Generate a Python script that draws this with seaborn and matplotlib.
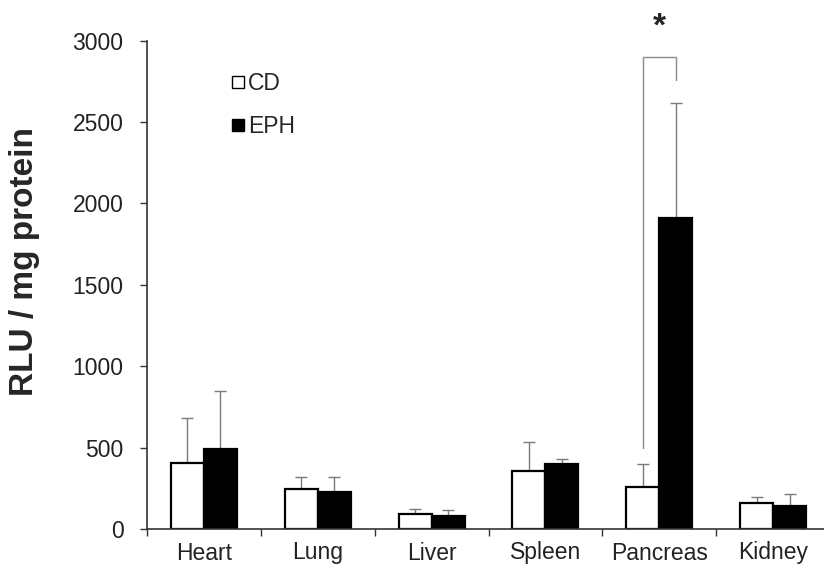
import pandas as pd
import seaborn as sns
import matplotlib.pyplot as plt
from matplotlib.lines import Line2D
from matplotlib.ticker import FixedLocator

organs = ["Heart", "Lung", "Liver", "Spleen", "Pancreas", "Kidney"]
cd_mean = [403, 245, 92, 358, 260, 157]
cd_err = [277, 72, 33, 176, 138, 42]
eph_mean = [491, 229, 82, 397, 1910, 143]
eph_err = [357, 88, 35, 32, 705, 70]
groups = ["CD", "EPH"]

df = pd.DataFrame({
    "organ": organs * 2,
    "group": ["CD"] * len(organs) + ["EPH"] * len(organs),
    "rlu": cd_mean + eph_mean,
})
errs = {"CD": cd_err, "EPH": eph_err}

sns.set_theme(style="white")
plt.rcParams["font.family"] = ["Liberation Sans", "DejaVu Sans"]

fig = plt.figure(figsize=(8.24, 5.70), dpi=100)
ax = fig.add_axes([147 / 824, 41 / 570, 683 / 824, 488.5 / 570])

sns.barplot(data=df, x="organ", y="rlu", hue="group", order=organs, hue_order=groups,
            palette={"CD": "white", "EPH": "black"}, edgecolor="black", linewidth=1.6,
            errorbar=None, width=0.58, gap=0, ax=ax, legend=False, zorder=2)

centers = {}
for cont, g in zip(ax.containers, groups):
    xs = [p.get_x() + p.get_width() / 2 for p in cont]
    hs = [p.get_height() for p in cont]
    centers[g] = xs
    ax.errorbar(xs, hs, yerr=[[0] * len(hs), errs[g]], fmt="none", ecolor="#7a7a7a",
                elinewidth=1.0, capsize=4.5, capthick=1.0, zorder=1)

# significance bracket on pancreas
i = organs.index("Pancreas")
x1, x2 = centers["CD"][i], centers["EPH"][i]
ax.plot([x1, x1, x2, x2], [500, 2900, 2900, 2760], color="#8a8a8a", lw=1.0, clip_on=False)
ax.text((x1 + x2) / 2, 2985, "*", ha="center", va="bottom", fontsize=24,
        fontweight="bold", clip_on=False)

ax.set_xlim(-0.5, 5.5)
ax.set_ylim(0, 3000)
ax.set_yticks(range(0, 3001, 500))
ax.xaxis.set_minor_locator(FixedLocator([k - 0.5 for k in range(len(organs) + 1)]))
ax.tick_params(axis="x", which="major", length=0, pad=9, labelsize=16.5, labelcolor="#222222")
ax.tick_params(axis="x", which="minor", bottom=True, length=5, width=1, color="#333333",
               direction="out")
ax.tick_params(axis="y", left=True, length=5, width=1, color="#333333", pad=12,
               labelsize=16.5, labelcolor="#222222", direction="out")
ax.set_xlabel("")
ax.set_ylabel("RLU / mg protein", fontsize=24, fontweight="bold")
ax.yaxis.set_label_coords(-0.157, 0.547)

for side in ["top", "right"]:
    ax.spines[side].set_visible(False)
for side in ["left", "bottom"]:
    ax.spines[side].set_color("#333333")
    ax.spines[side].set_linewidth(1.2)

handles = [Line2D([], [], ls="none", marker="s", markersize=9, markerfacecolor=c,
                  markeredgecolor="black", markeredgewidth=1.0)
           for c in ["white", "black"]]
ax.legend(handles, groups, loc="upper left", bbox_to_anchor=(0.093, 0.978), frameon=False,
          fontsize=16.5, handlelength=0.6, handletextpad=0.15, labelspacing=0.87)

plt.savefig("out.png", dpi=100)
